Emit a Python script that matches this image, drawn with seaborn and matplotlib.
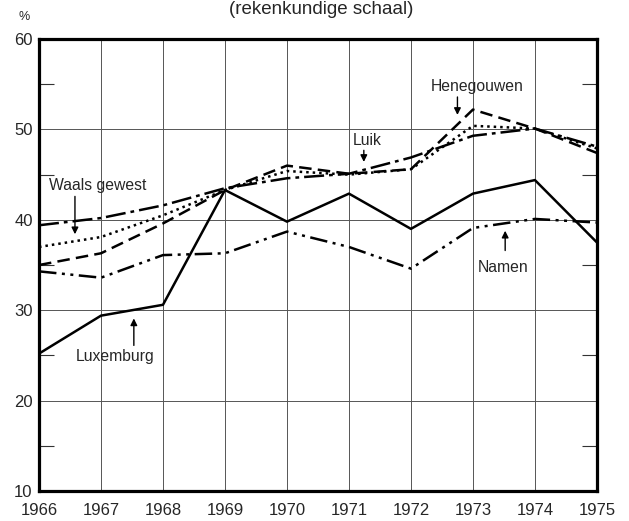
import matplotlib
matplotlib.use('Agg')
import matplotlib.pyplot as plt
import seaborn as sns
import pandas as pd
from matplotlib.ticker import MultipleLocator

sns.set_style('white')
plt.rcParams['font.family'] = ['Liberation Sans', 'DejaVu Sans']

years = [1966, 1967, 1968, 1969, 1970, 1971, 1972, 1973, 1974, 1975]
luxemburg = [25.2, 29.4, 30.6, 43.3, 39.8, 42.9, 39.0, 42.9, 44.4, 37.5]
namen = [34.3, 33.6, 36.1, 36.3, 38.7, 37.0, 34.6, 39.1, 40.1, 39.7]
waals_gewest = [37.0, 38.1, 40.5, 43.3, 45.4, 45.0, 45.6, 50.4, 50.1, 47.9]
henegouwen = [35.0, 36.3, 39.6, 43.3, 46.0, 45.1, 45.6, 52.2, 50.1, 47.4]
luik = [39.4, 40.2, 41.6, 43.5, 44.6, 45.1, 46.9, 49.3, 50.1, 48.1]

series = {
    'Luxemburg': (luxemburg, '-'),
    'Namen': (namen, (0, (7, 2.2, 1.2, 2.2, 1.2, 2.2))),
    'Waals gewest': (waals_gewest, (0, (1, 1.6))),
    'Henegouwen': (henegouwen, (0, (5, 2.5))),
    'Luik': (luik, (0, (8, 2, 1.5, 2))),
}

fig = plt.figure(figsize=(6.29, 5.21), dpi=100)
ax = fig.add_axes([0.062, 0.0576, 0.887, 0.8674])

for name, (vals, ls) in series.items():
    df = pd.DataFrame({'jaar': years, 'pct': vals})
    sns.lineplot(data=df, x='jaar', y='pct', ax=ax, color='black',
                 linestyle=ls, linewidth=1.8)

ax.set_xlim(1966, 1975)
ax.set_ylim(10, 60)
ax.set_xticks(years)
ax.set_yticks([10, 20, 30, 40, 50, 60])
ax.yaxis.set_minor_locator(MultipleLocator(5))
ax.grid(True, which='major', color='#555555', linewidth=0.7)
ax.tick_params(which='major', length=0, labelsize=12, pad=4.5)
ax.tick_params(axis='x', pad=9)
ax.tick_params(which='minor', direction='in', length=11, width=0.8,
               left=True, right=True, color='#333333')
ax.set_xlabel('')
ax.set_ylabel('')
for sp in ax.spines.values():
    sp.set_visible(True)
    sp.set_color('black')
    sp.set_linewidth(2.3)

fig.text(0.038, 0.968, '%', fontsize=9, ha='center', va='center')
fig.text(0.51, 0.982, '(rekenkundige schaal)', fontsize=13.5, ha='center', va='center')

arrow = dict(arrowstyle='-|>', color='black', lw=1.0, mutation_scale=10)
labels = [
    ('Waals gewest', (1966.95, 43.8), (1966.58, 42.9), (1966.58, 38.1)),
    ('Luxemburg', (1967.22, 24.9), (1967.53, 25.8), (1967.53, 29.4)),
    ('Luik', (1971.29, 48.8), (1971.24, 48.0), (1971.24, 46.1)),
    ('Henegouwen', (1973.07, 54.7), (1972.75, 53.9), (1972.75, 51.3)),
    ('Namen', (1973.49, 34.7), (1973.52, 36.3), (1973.52, 39.1)),
]
for text, pos, tail, tip in labels:
    ax.text(pos[0], pos[1], text, fontsize=11.3, ha='center', va='center')
    ax.annotate('', xy=tip, xytext=tail, arrowprops=arrow)

fig.savefig('out.png', dpi=100)
